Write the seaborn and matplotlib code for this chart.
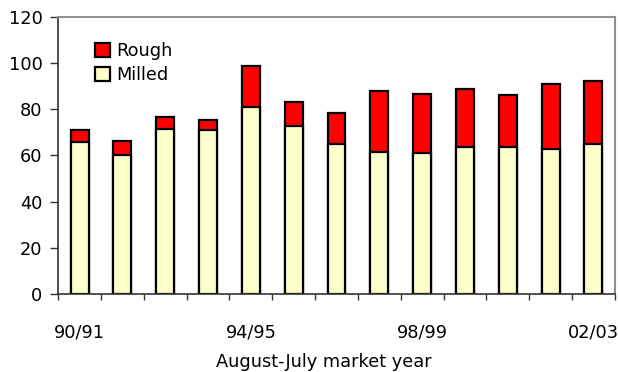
import numpy as np
import pandas as pd
import matplotlib
matplotlib.use("Agg")
import matplotlib.pyplot as plt
from matplotlib.patches import Patch
import seaborn as sns

# Market years (August-July) and rice volumes
years = ["90/91", "91/92", "92/93", "93/94", "94/95", "95/96", "96/97",
         "97/98", "98/99", "99/00", "00/01", "01/02", "02/03"]
milled = [66, 60, 71.6, 71.1, 81.2, 72.8, 65.1, 61.4, 61.0, 63.7, 63.7, 63.0, 64.9]
rough = [5.1, 6.4, 5.2, 4.3, 17.6, 10.4, 13.2, 26.4, 25.8, 25.3, 22.7, 28.0, 27.2]
shown_labels = ["90/91", "94/95", "98/99", "02/03"]

df = pd.DataFrame({"year": years, "milled": milled, "rough": rough})
df["total"] = df["milled"] + df["rough"]

sns.set_style("white")
plt.rcParams["font.family"] = ["DejaVu Sans"]
plt.rcParams["text.color"] = "black"
plt.rcParams["axes.labelcolor"] = "black"
plt.rcParams["xtick.color"] = "black"
plt.rcParams["ytick.color"] = "black"

FS = 12.8

fig = plt.figure(figsize=(6.18, 3.72), dpi=100)
ax = fig.add_axes([0.094, 0.21, 0.901, 0.744])

edge = dict(edgecolor="black", linewidth=1.6)
sns.barplot(data=df, x="year", y="total", color="#FF0000", saturation=1,
            width=0.42, ax=ax, **edge)
sns.barplot(data=df, x="year", y="milled", color="#FFFFCC", saturation=1,
            width=0.42, ax=ax, **edge)

ax.set_xlim(-0.5, len(years) - 0.5)
ax.set_ylim(0, 120)
ax.set_yticks(np.arange(0, 121, 20))
ax.tick_params(axis="y", which="major", length=5.8, width=1, color="#333333",
               labelcolor="black", labelsize=FS, pad=5.5, direction="out", left=True)

# Category boundaries get tick marks; selected years get labels
n = len(years)
ax.set_xticks(np.arange(n + 1) - 0.5)
ax.set_xticklabels([])
ax.tick_params(axis="x", which="major", length=4.5, width=1, color="#333333",
               direction="out", bottom=True)
ax.set_xticks(np.arange(n), minor=True)
ax.set_xticklabels([y if y in shown_labels else "" for y in years], minor=True)
ax.tick_params(axis="x", which="minor", length=0, labelsize=FS, pad=21,
               labelcolor="black")

ax.set_xlabel("August-July market year", fontsize=FS, color="black")
ax.xaxis.set_label_coords(0.524, 1 - 367 / 372, transform=fig.transFigure)
ax.xaxis.label.set_verticalalignment("baseline")
ax.set_ylabel("")

for side in ("left", "bottom"):
    ax.spines[side].set_color("#333333")
    ax.spines[side].set_linewidth(1.2)
for side in ("top", "right"):
    ax.spines[side].set_visible(True)
    ax.spines[side].set_color("#909090")
    ax.spines[side].set_linewidth(1.5)

handles = [Patch(facecolor="#FF0000", edgecolor="black", linewidth=1.6, label="Rough"),
           Patch(facecolor="#FFFFCC", edgecolor="black", linewidth=1.6, label="Milled")]
leg = ax.legend(handles=handles, loc="upper left", bbox_to_anchor=(0.143, 0.905),
                bbox_transform=fig.transFigure, frameon=False, fontsize=FS,
                handlelength=0.83, handleheight=0.83, handletextpad=0.35,
                labelspacing=0.33, borderaxespad=0)
for t in leg.get_texts():
    t.set_color("black")

fig.savefig("out.png", dpi=100)
